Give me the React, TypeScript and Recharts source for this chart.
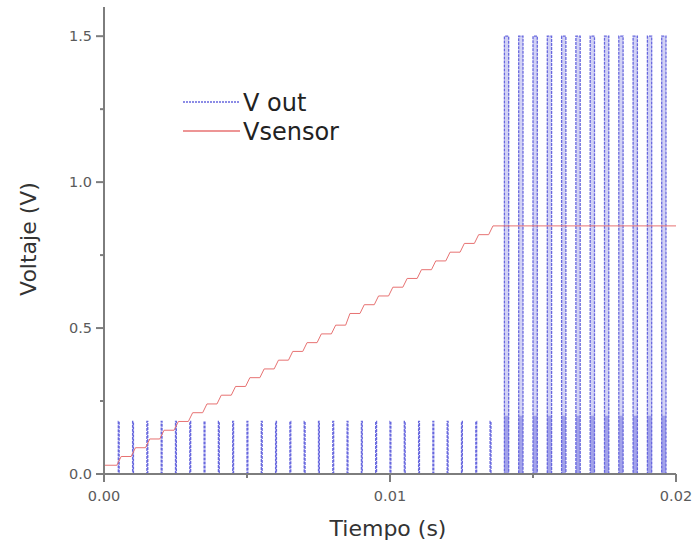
import {
  ComposedChart,
  Line,
  Area,
  XAxis,
  YAxis,
  Legend,
  Label,
} from "recharts";

// pulse instants of V out (s)
const shortPulseTimes = [
  0.0005, 0.001, 0.0015, 0.002, 0.0025, 0.003, 0.0035, 0.004, 0.0045,
  0.005, 0.0055, 0.006, 0.0065, 0.007, 0.0075, 0.008, 0.0085, 0.009,
  0.0095, 0.01, 0.0105, 0.011, 0.0115, 0.012, 0.0125, 0.013, 0.0135,
];
const shortPulseHeight = 0.18;

const tallPulseTimes = [
  0.014, 0.0145, 0.015, 0.0155, 0.016, 0.0165, 0.017, 0.0175, 0.018,
  0.0185, 0.019, 0.0195,
];
const tallPulseHeight = 1.5;
const tallPulseBase = 0.2;
const tallPulseWidth = 0.00015;

// Vsensor staircase: level before the first step, then after each step
const sensorLevels = [
  0.03, 0.06, 0.09, 0.12, 0.15, 0.18, 0.21, 0.24, 0.27, 0.3, 0.33, 0.36,
  0.39, 0.42, 0.45, 0.48, 0.51, 0.55, 0.58, 0.61, 0.64, 0.67, 0.7, 0.73,
  0.76, 0.79, 0.82, 0.85,
];

const xTicks = [0, 0.005, 0.01, 0.015, 0.02];
const xMajor = [0, 0.01, 0.02];
const yTicks = [0, 0.25, 0.5, 0.75, 1, 1.25, 1.5];
const yMajor = [0, 0.5, 1, 1.5];

const BLUE = "#6767de";
const RED = "#e77272";
const AXIS = "#7d7d7d";
const FONT = "'DejaVu Sans', sans-serif";

const vOut: { t: number; v: number }[] = [{ t: 0, v: 0 }];
shortPulseTimes.forEach((t) => {
  vOut.push({ t, v: 0 }, { t, v: shortPulseHeight });
  vOut.push({ t: t + 0.00003, v: shortPulseHeight }, { t: t + 0.00003, v: 0 });
});
tallPulseTimes.forEach((t) => {
  vOut.push({ t, v: 0 }, { t, v: tallPulseHeight });
  vOut.push({ t: t + tallPulseWidth, v: tallPulseHeight });
  vOut.push({ t: t + tallPulseWidth, v: 0 });
});

const tallFill: { t: number; v: number }[] = [];
const lowFill: { t: number; v: number }[] = [];
tallPulseTimes.forEach((t) => {
  tallFill.push({ t, v: 0 }, { t, v: tallPulseHeight });
  tallFill.push({ t: t + tallPulseWidth, v: tallPulseHeight }, { t: t + tallPulseWidth, v: 0 });
  lowFill.push({ t, v: 0 }, { t, v: tallPulseBase });
  lowFill.push({ t: t + tallPulseWidth, v: tallPulseBase }, { t: t + tallPulseWidth, v: 0 });
});

const vSensor: { t: number; v: number }[] = [{ t: 0, v: sensorLevels[0] }];
shortPulseTimes.forEach((t, i) => {
  vSensor.push({ t: t - 0.00005, v: sensorLevels[i] });
  vSensor.push({ t: t + 0.0001, v: sensorLevels[i + 1] });
});
vSensor.push({ t: 0.02, v: sensorLevels[sensorLevels.length - 1] });

function XTick(props: any) {
  const { x, y, payload } = props;
  const major = xMajor.includes(payload.value);
  return (
    <g>
      <line x1={x} x2={x} y1={y} y2={y + (major ? 8 : 4)} stroke={AXIS} strokeWidth={2} />
      {major && (
        <text x={x} y={y + 27} textAnchor="middle" fontSize={14.5} fill="#5a5a5a" fontFamily={FONT}>
          {payload.value.toFixed(2)}
        </text>
      )}
    </g>
  );
}

function YTick(props: any) {
  const { x, y, payload } = props;
  const major = yMajor.includes(payload.value);
  return (
    <g>
      <line x1={x} x2={x - (major ? 8 : 4)} y1={y} y2={y} stroke={AXIS} strokeWidth={2} />
      {major && (
        <text x={x - 12} y={y + 5} textAnchor="end" fontSize={14.5} fill="#5a5a5a" fontFamily={FONT}>
          {payload.value.toFixed(1)}
        </text>
      )}
    </g>
  );
}

function LegendBox({ payload }: any) {
  const items = (payload || []).filter(
    (p: any) => p.type !== "none" && (p.value === "V out" || p.value === "Vsensor")
  );
  return (
    <svg width={220} height={60} style={{ display: "block" }}>
      {items.map((p: any, i: number) => (
        <g key={p.value}>
          <line
            x1={0}
            x2={57}
            y1={14 + i * 29}
            y2={14 + i * 29}
            stroke={p.color}
            strokeWidth={1.3}
            strokeDasharray={p.value === "V out" ? "2 1" : undefined}
          />
          <text x={60} y={23 + i * 29} fontSize={24} fill="#222" fontFamily={FONT}>
            {p.value}
          </text>
        </g>
      ))}
    </svg>
  );
}

export default function App() {
  return (
    <div style={{ position: "absolute", left: 0, top: 0, background: "#fff" }}>
      <ComposedChart
        width={694}
        height={546}
        margin={{ top: 7, right: 18, bottom: 0, left: 0 }}
      >
        <XAxis
          type="number"
          dataKey="t"
          domain={[0, 0.02]}
          ticks={xTicks}
          allowDataOverflow
          stroke={AXIS}
          strokeWidth={2}
          tickLine={false}
          tickSize={0}
          tickMargin={0}
          tick={<XTick />}
          height={72}
        >
          <Label
            content={() => (
              <text x={388} y={536} textAnchor="middle" fontSize={22} fill="#333" fontFamily={FONT}>
                Tiempo (s)
              </text>
            )}
          />
        </XAxis>
        <YAxis
          type="number"
          domain={[0, 1.6]}
          ticks={yTicks}
          allowDataOverflow
          stroke={AXIS}
          strokeWidth={2}
          tickLine={false}
          tickSize={0}
          tickMargin={0}
          tick={<YTick />}
          width={104}
        >
          <Label
            content={() => (
              <text
                x={36}
                y={239}
                transform="rotate(-90 36 239)"
                textAnchor="middle"
                fontSize={22}
                fill="#333"
                fontFamily={FONT}
              >
                Voltaje (V)
              </text>
            )}
          />
        </YAxis>
        <Legend
          layout="horizontal"
          verticalAlign="middle"
          align="center"
          wrapperStyle={{ left: 183, top: 88, width: 220 }}
          content={<LegendBox />}
        />
        <Area
          data={tallFill}
          dataKey="v"
          type="linear"
          stroke="none"
          fill="#d2d2f5"
          fillOpacity={1}
          legendType="none"
          isAnimationActive={false}
        />
        <Area
          data={lowFill}
          dataKey="v"
          type="linear"
          stroke="none"
          fill="#a2a2ea"
          fillOpacity={1}
          legendType="none"
          isAnimationActive={false}
        />
        <Line
          data={vOut}
          dataKey="v"
          name="V out"
          type="linear"
          stroke={BLUE}
          strokeWidth={1.3}
          strokeDasharray="3 1"
          dot={false}
          isAnimationActive={false}
        />
        <Line
          data={vSensor}
          dataKey="v"
          name="Vsensor"
          type="linear"
          stroke={RED}
          strokeWidth={1}
          dot={false}
          isAnimationActive={false}
        />
      </ComposedChart>
    </div>
  );
}
